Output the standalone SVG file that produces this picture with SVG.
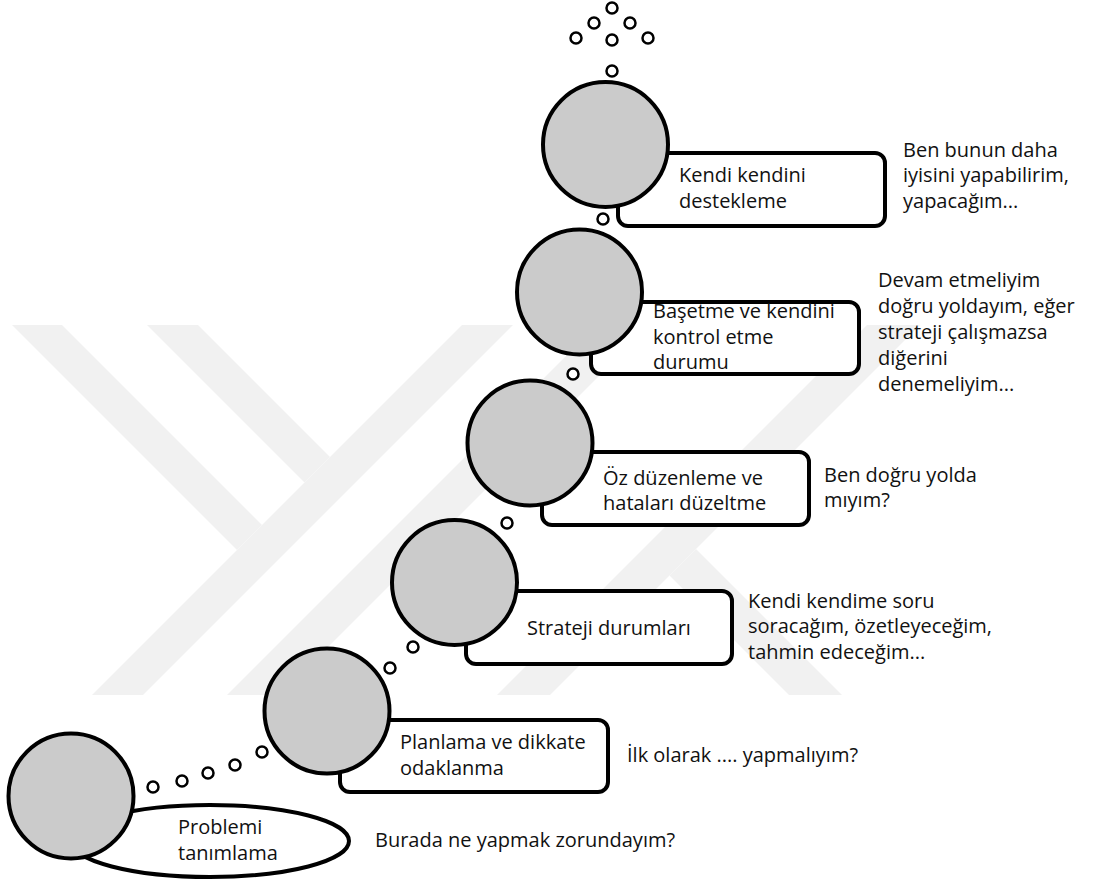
<svg xmlns="http://www.w3.org/2000/svg" width="1094" height="879" viewBox="0 0 1094 879">
  <style>
    .bg { fill: #ffffff; }
    .mark { fill: #f1f1f1; }
    .box { fill: #ffffff; stroke: #000000; stroke-width: 4; }
    .head { fill: #cbcbcb; stroke: #000000; stroke-width: 4; }
    .dot { fill: #ffffff; stroke: #000000; stroke-width: 2.5; }
    .lbl { font-family: "Open Sans", "Liberation Sans", sans-serif; font-size: 20px; fill: #111111; }
  </style>

  <rect class="bg" x="0" y="0" width="1094" height="879"/>

  <!-- faint background emblem -->
  <g id="emblem">
    <polygon class="mark" points="12,325 62,325 262,525 237,550"/>
    <polygon class="mark" points="147,325 198,325 330,457 304.5,482.5"/>
    <polygon class="mark" points="462,325 513,325 143,695 92,695"/>
    <polygon class="mark" points="597,325 650,325 280,695 227,695"/>
    <polygon class="mark" points="867,325 920,325 550,695 497,695"/>
    <polygon class="mark" points="669.5,575.5 696,549 842,695 789,695"/>
  </g>

  <!-- thought bubbles linking the stages -->
  <g id="connectors">
    <circle class="dot" cx="612" cy="8" r="5.5"/>
    <circle class="dot" cx="594" cy="23" r="5.5"/>
    <circle class="dot" cx="630" cy="23" r="5.5"/>
    <circle class="dot" cx="576" cy="38" r="5.5"/>
    <circle class="dot" cx="612" cy="40" r="5.5"/>
    <circle class="dot" cx="648" cy="38" r="5.5"/>
    <circle class="dot" cx="612" cy="71" r="5.5"/>
    <circle class="dot" cx="603" cy="219" r="5.5"/>
    <circle class="dot" cx="573" cy="374" r="5.5"/>
    <circle class="dot" cx="507" cy="523" r="5.5"/>
    <circle class="dot" cx="413" cy="647" r="5.5"/>
    <circle class="dot" cx="390" cy="668" r="5.5"/>
    <circle class="dot" cx="262" cy="752" r="5.5"/>
    <circle class="dot" cx="235" cy="765" r="5.5"/>
    <circle class="dot" cx="208" cy="773" r="5.5"/>
    <circle class="dot" cx="182" cy="781" r="5.5"/>
    <circle class="dot" cx="153" cy="787" r="5.5"/>
  </g>

  <g id="stage-problem">
    <ellipse class="box" cx="210" cy="841" rx="139" ry="36"/>
    <circle class="head" cx="71" cy="796" r="62.5"/>
    <text class="lbl" x="178" y="834">Problemi</text>
    <text class="lbl" x="178" y="860">tanımlama</text>
    <text class="lbl" x="375" y="847">Burada ne yapmak zorundayım?</text>
  </g>

  <g id="stage-planning">
    <rect class="box" x="340" y="720" width="268" height="72" rx="10"/>
    <circle class="head" cx="327" cy="711" r="62.5"/>
    <text class="lbl" x="400" y="749">Planlama ve dikkate</text>
    <text class="lbl" x="400" y="775">odaklanma</text>
    <text class="lbl" x="627" y="762">İlk olarak .... yapmalıyım?</text>
  </g>

  <g id="stage-strategy">
    <rect class="box" x="466" y="591" width="266" height="73" rx="10"/>
    <circle class="head" cx="454.5" cy="582.5" r="62.5"/>
    <text class="lbl" x="527" y="635">Strateji durumları</text>
    <text class="lbl" x="748" y="608">Kendi kendime soru</text>
    <text class="lbl" x="748" y="633">soracağım, özetleyeceğim,</text>
    <text class="lbl" x="748" y="659">tahmin edeceğim...</text>
  </g>

  <g id="stage-regulation">
    <rect class="box" x="542" y="452" width="267" height="73" rx="10"/>
    <circle class="head" cx="530" cy="443" r="62.5"/>
    <text class="lbl" x="603" y="485">Öz düzenleme ve</text>
    <text class="lbl" x="603" y="510">hataları düzeltme</text>
    <text class="lbl" x="824" y="482">Ben doğru yolda</text>
    <text class="lbl" x="824" y="507">mıyım?</text>
  </g>

  <g id="stage-coping">
    <rect class="box" x="591" y="302" width="268" height="72" rx="10"/>
    <circle class="head" cx="579.5" cy="292" r="62.5"/>
    <text class="lbl" x="653" y="318">Başetme ve kendini</text>
    <text class="lbl" x="653" y="344">kontrol etme</text>
    <text class="lbl" x="653" y="369">durumu</text>
    <text class="lbl" x="878" y="287">Devam etmeliyim</text>
    <text class="lbl" x="878" y="313">doğru yoldayım, eğer</text>
    <text class="lbl" x="878" y="339">strateji çalışmazsa</text>
    <text class="lbl" x="878" y="365">diğerini</text>
    <text class="lbl" x="878" y="391">denemeliyim...</text>
  </g>

  <g id="stage-support">
    <rect class="box" x="618" y="153" width="267" height="73" rx="10"/>
    <circle class="head" cx="605.5" cy="144.5" r="62.5"/>
    <text class="lbl" x="679" y="182">Kendi kendini</text>
    <text class="lbl" x="679" y="208">destekleme</text>
    <text class="lbl" x="903" y="157">Ben bunun daha</text>
    <text class="lbl" x="903" y="182">iyisini yapabilirim,</text>
    <text class="lbl" x="903" y="208">yapacağım...</text>
  </g>
</svg>
